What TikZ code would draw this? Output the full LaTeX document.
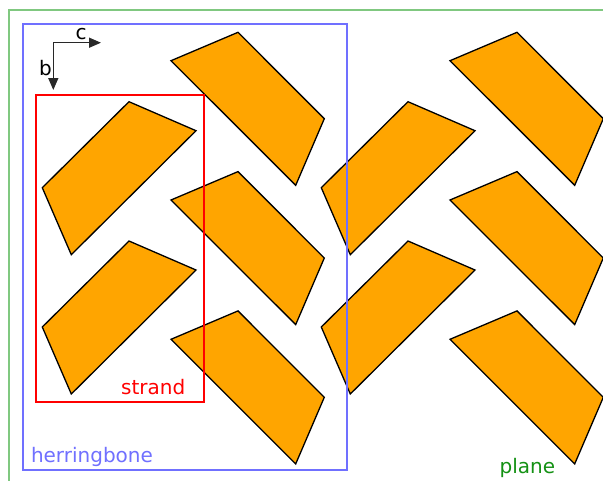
\documentclass[tikz,border=0pt]{standalone}
\usepackage{fontspec}
\setmainfont{DejaVu Sans}
\usetikzlibrary{arrows.meta}
\definecolor{tileorange}{HTML}{FFA500}
\definecolor{planeframe}{RGB}{128,200,128}
\definecolor{planetext}{RGB}{20,145,20}
\definecolor{herrblue}{RGB}{112,112,255}
\definecolor{axisgray}{RGB}{40,40,40}
\tikzset{
  tile/.style={fill=tileorange, draw=black, line width=1.3pt, line join=miter},
  frame/.style={line width=2pt},
  lbl/.style={anchor=base west, inner sep=0pt, font=\fontsize{20}{24}\selectfont},
  axisarrow/.style={draw=axisgray, line width=1.5pt, -{Triangle[length=12pt,width=10pt]}}
}
\begin{document}
\begin{tikzpicture}[x=1pt,y=-1pt]
\useasboundingbox (0,0) rectangle (603,480);
\begin{scope}
\clip (0,0) rectangle (603,480);
% A-type tiles
\foreach \dx/\dy in {0/0, 0/139.3, 279/0, 279/139.3}{
  \draw[tile] (129+\dx,101.7+\dy) -- (196+\dx,130.7+\dy) -- (71.3+\dx,254.7+\dy) -- (42.3+\dx,187.7+\dy) -- cycle;
}
% B-type tiles
\foreach \dx/\dy in {0/0, 0/139.3, 0/278.6, 279/0, 279/139.3, 279/278.6}{
  \draw[tile] (171+\dx,60.7+\dy) -- (238+\dx,32.3+\dy) -- (324.3+\dx,118.7+\dy) -- (295.7+\dx,185.3+\dy) -- cycle;
}
% frames
\draw[frame, draw=planeframe] (9,10.3) rectangle (640,520);
\draw[frame, draw=herrblue] (23,24) rectangle (346.5,470);
\draw[frame, draw=red] (36.3,95) rectangle (204.3,402.3);
\end{scope}
% axes
\coordinate (o) at (53.3,42.7);
\coordinate (cend) at (101,42.7);
\coordinate (bend) at (53.3,90);
\draw[axisarrow] (o) -- (cend);
\draw[axisarrow] (o) -- (bend);
\node[lbl, text=black] (clabel) at (75.5,39) {c};
\node[lbl, text=black] (blabel) at (39,75) {b};
% labels
\node[lbl, text=red] (strand) at (121,394.3) {strand};
\node[lbl, text=herrblue] (herring) at (30.8,462.7) {herringbone};
\node[lbl, text=planetext] (plane) at (499.5,473.3) {plane};
\end{tikzpicture}
\end{document}
